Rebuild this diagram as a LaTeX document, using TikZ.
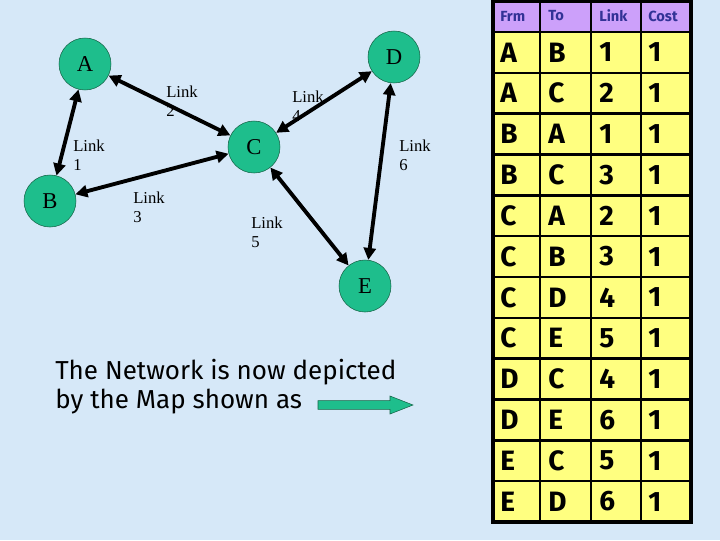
\documentclass[tikz,border=0pt]{standalone}
\usepackage{fontspec}
\setmainfont{Liberation Serif}
\newfontfamily\comicfont{Fira Sans}
\usetikzlibrary{arrows.meta}
\definecolor{skyback}{RGB}{214,232,248}
\definecolor{nodegreen}{RGB}{30,190,140}
\definecolor{nodeedge}{RGB}{20,100,70}
\definecolor{cellyellow}{RGB}{255,255,128}
\definecolor{headlilac}{RGB}{204,160,250}
\definecolor{headink}{RGB}{50,50,150}

\begin{document}
\begin{tikzpicture}[x=0.75pt, y=-0.75pt, >={Triangle[length=9pt,width=9pt]},
    router/.style={circle, draw=nodeedge, fill=nodegreen, minimum size=39pt,
        inner sep=0pt, font=\fontsize{17}{17}\selectfont},
    linkarrow/.style={<->, line width=2.9pt, black},
    linklabel/.style={anchor=north west, inner sep=0pt, align=left,
        font=\fontsize{12.5}{14}\selectfont},
    cell/.style={anchor=west, inner sep=0pt, font=\comicfont\bfseries\fontsize{21}{21}\selectfont},
    headcell/.style={anchor=west, inner sep=0pt, text=headink,
        font=\comicfont\bfseries\fontsize{11}{11}\selectfont}]

    % Background
    \useasboundingbox (0,0) rectangle (720,540);
    \fill[skyback] (0,0) rectangle (720,540);

    % Routers
    \node[router] (A) at (85,64) {A};
    \node[router] (D) at (394,57) {D};
    \node[router] (C) at (254,147) {C};
    \node[router] (B) at (50,201) {B};
    \node[router] (E) at (365,286) {E};

    % Links
    \draw[linkarrow] (A) -- (B);
    \draw[linkarrow] (A) -- (C);
    \draw[linkarrow] (B) -- (C);
    \draw[linkarrow] (C) -- (D);
    \draw[linkarrow] (C) -- (E);
    \draw[linkarrow] (D) -- (E);

    % Link labels
    \node[linklabel] (l1) at (73,140) {Link\\1};
    \node[linklabel] (l2) at (166,86) {Link\\2};
    \node[linklabel] (l3) at (133,192) {Link\\3};
    \node[linklabel] (l4) at (292,91) {Link\\4};
    \node[linklabel] (l5) at (251,217) {Link\\5};
    \node[linklabel] (l6) at (399,140) {Link\\6};

    % Caption and pointer
    \node[anchor=north west, inner sep=0pt, align=left,
        font=\comicfont\fontsize{19.5}{22}\selectfont] (caption) at (55,359)
        {The Network is now depicted\\by the Map shown as};
    \draw[fill=nodegreen, draw=nodeedge] (318,400.7) -- (390,400.7) -- (390,396)
        -- (413,405) -- (390,414) -- (390,409.3) -- (318,409.3) -- cycle;

    % Map table
    \fill[cellyellow] (493,32) rectangle (691,522);
    \fill[headlilac] (493,1) rectangle (691,32);
    \foreach \k in {1,...,11}
        \draw[line width=1.8pt] (493,32+\k*40.83) -- (691,32+\k*40.83);
    \draw[line width=1.8pt] (493,32) -- (691,32);
    \foreach \x in {540,591,641}
        \draw[line width=1.8pt] (\x,1) -- (\x,522);
    \draw[line width=2.6pt] (493,1) rectangle (691,522);

    \node[headcell] (hfrm) at (500,16) {Frm};
    \node[headcell] (hto) at (548,16) {To};
    \node[headcell] (hlnk) at (599,16) {Link};
    \node[headcell] (hcst) at (648,16) {Cost};

    \foreach \frm/\dst/\lnk/\cst [count=\r] in
        {A/B/1/1, A/C/2/1, B/A/1/1, B/C/3/1, C/A/2/1, C/B/3/1,
         C/D/4/1, C/E/5/1, D/C/4/1, D/E/6/1, E/C/5/1, E/D/6/1} {
        \pgfmathsetmacro{\yc}{32+(\r-0.5)*40.83}
        \node[cell] (f\r) at (500,\yc) {\frm};
        \node[cell] (t\r) at (548,\yc) {\dst};
        \node[cell] (k\r) at (599,\yc) {\lnk};
        \node[cell] (c\r) at (648,\yc) {\cst};
    }

\end{tikzpicture}
\end{document}
